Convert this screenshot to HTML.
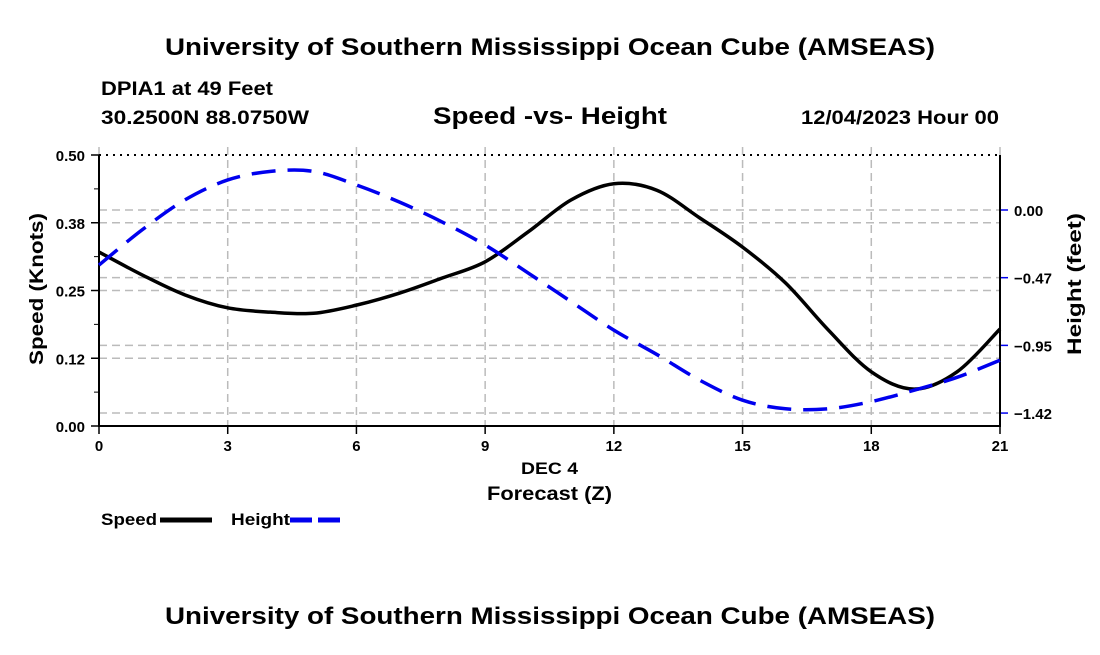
<!DOCTYPE html>
<html><head><meta charset="utf-8"><style>
body{margin:0;background:#fff;font-family:"Liberation Sans",Arial,sans-serif}
svg text{font-family:"Liberation Sans",Arial,sans-serif;font-weight:bold}
</style></head><body>
<svg id="c" width="1100" height="650" viewBox="0 0 1100 650">
<text x="165" y="55" font-size="24" textLength="770" lengthAdjust="spacingAndGlyphs">University of Southern Mississippi Ocean Cube (AMSEAS)</text>
<text x="101" y="95" font-size="19" textLength="172" lengthAdjust="spacingAndGlyphs">DPIA1 at 49 Feet</text>
<text x="101" y="124" font-size="19" textLength="208" lengthAdjust="spacingAndGlyphs">30.2500N  88.0750W</text>
<text x="433" y="124" font-size="24" textLength="234" lengthAdjust="spacingAndGlyphs">Speed -vs- Height</text>
<text x="801" y="124" font-size="19" textLength="198" lengthAdjust="spacingAndGlyphs">12/04/2023 Hour 00</text>
<g id="grid"></g>
<g id="axes"></g>
<g id="series"></g>
<text x="521" y="474" font-size="17" textLength="57" lengthAdjust="spacingAndGlyphs">DEC 4</text>
<text x="487" y="500" font-size="19" textLength="125" lengthAdjust="spacingAndGlyphs">Forecast (Z)</text>
<text transform="translate(43,365) rotate(-90)" font-size="19" textLength="152" lengthAdjust="spacingAndGlyphs">Speed (Knots)</text>
<text transform="translate(1081,355) rotate(-90)" font-size="19" textLength="142" lengthAdjust="spacingAndGlyphs">Height (feet)</text>
<g>
<text x="101" y="525" font-size="17" textLength="56" lengthAdjust="spacingAndGlyphs">Speed</text>
<line x1="160" y1="520" x2="212" y2="520" stroke="#000" stroke-width="5"/>
<text x="231" y="525" font-size="17" textLength="59" lengthAdjust="spacingAndGlyphs">Height</text>
<line x1="290" y1="520" x2="343" y2="520" stroke="#0000ee" stroke-width="5" stroke-dasharray="22,6"/>
</g>
<text x="165" y="624" font-size="24" textLength="770" lengthAdjust="spacingAndGlyphs">University of Southern Mississippi Ocean Cube (AMSEAS)</text>
</svg>
<script>
const hours=[0,1,2,3,4,5,6,7,8,9,10,11,12,13,14,15,16,17,18,19,20,21];
const speed=[0.321,0.279,0.242,0.218,0.210,0.208,0.223,0.245,0.273,0.303,0.358,0.417,0.447,0.435,0.384,0.330,0.264,0.177,0.100,0.068,0.100,0.179];
const height=[-0.385,-0.14,0.07,0.21,0.27,0.27,0.175,0.056,-0.084,-0.245,-0.44,-0.64,-0.84,-1.01,-1.19,-1.33,-1.39,-1.39,-1.34,-1.26,-1.17,-1.05];
const xTicks=[0,3,6,9,12,15,18,21];
const leftTicks=[0,0.125,0.25,0.375,0.5];
const leftLabels=["0.00","0.12","0.25","0.38","0.50"];
const rightTicks=[0,-0.4733,-0.9467,-1.42];
const rightLabels=["0.00","\u22120.47","\u22120.95","\u22121.42"];
const X0=99,X1=1000,Y0=426,Y1=155;
const x=h=>X0+(h/21)*(X1-X0);
const yL=v=>Y0-(v/0.5)*(Y0-Y1);
const yR=v=>210-v*143;
const NS="http://www.w3.org/2000/svg";
function mk(p,t,a){const e=document.createElementNS(NS,t);for(const k in a)e.setAttribute(k,a[k]);p.appendChild(e);return e;}
const G=document.getElementById('grid'),A=document.getElementById('axes'),S=document.getElementById('series');
xTicks.forEach(h=>{
 const l=mk(G,'line',{x1:x(h),x2:x(h),y1:Y1-8,y2:Y0,stroke:'#bbb','stroke-width':1.5,'stroke-dasharray':'8,5'});
 
 
 const t=mk(A,'line',{x1:x(h),x2:x(h),y1:Y0,y2:Y0+8,stroke:'#000','stroke-width':1.5});
 
 
 const tx=mk(A,'text',{x:x(h),y:Y0+25,'font-size':15,'text-anchor':'middle'});tx.textContent=h;
 
 
});
leftTicks.forEach((v,i)=>{
 if(i>0&&i<4){const l=mk(G,'line',{x1:X0,x2:X1,y1:yL(v),y2:yL(v),stroke:'#bbb','stroke-width':1.5,'stroke-dasharray':'8,5'});
 
 }
 const t=mk(A,'line',{x1:X0-8,x2:X0,y1:yL(v),y2:yL(v),stroke:'#000','stroke-width':1.5});
 
 
 if(i<4){const m=mk(A,'line',{x1:X0-5,x2:X0,y1:yL(v+0.0625),y2:yL(v+0.0625),stroke:'#000','stroke-width':1});
 
 }
 const tx=mk(A,'text',{x:X0-14,y:yL(v)+6,'font-size':15,'text-anchor':'end'});tx.textContent=leftLabels[i];
 
 
});
rightTicks.forEach((v,i)=>{
 const l=mk(G,'line',{x1:X0,x2:X1,y1:yR(v),y2:yR(v),stroke:'#bbb','stroke-width':1.5,'stroke-dasharray':'8,5'});
 
 
 const t=mk(A,'line',{x1:X1,x2:X1+8,y1:yR(v),y2:yR(v),stroke:'#0000ee','stroke-width':1.5});
 
 
 const tx=mk(A,'text',{x:X1+14,y:yR(v)+6,'font-size':15});tx.textContent=rightLabels[i];
 
 
});
const topBorder=mk(A,'line',{x1:X0,x2:X1,y1:Y1,y2:Y1,stroke:'#000','stroke-width':2,'stroke-dasharray':'2,5'});


const axPath=mk(A,'path',{d:`M${X0} ${Y1}V${Y0}H${X1}V${Y1}`,fill:'none',stroke:'#000','stroke-width':2});


function smooth(pts){let d=`M${pts[0][0]} ${pts[0][1]}`;for(let i=0;i<pts.length-1;i++){const p0=pts[Math.max(0,i-1)],p1=pts[i],p2=pts[i+1],p3=pts[Math.min(pts.length-1,i+2)];
 d+=` C${p1[0]+(p2[0]-p0[0])/6} ${p1[1]+(p2[1]-p0[1])/6} ${p2[0]-(p3[0]-p1[0])/6} ${p2[1]-(p3[1]-p1[1])/6} ${p2[0]} ${p2[1]}`;}return d;}
const sp=mk(S,'path',{d:smooth(hours.map((h,i)=>[x(h),yL(speed[i])])),fill:'none',stroke:'#000','stroke-width':3.5});


const hp=mk(S,'path',{d:smooth(hours.map((h,i)=>[x(h),yR(height[i])])),fill:'none',stroke:'#0000ee','stroke-width':3.5,'stroke-dasharray':'24,12'});


</script>
</body></html>
